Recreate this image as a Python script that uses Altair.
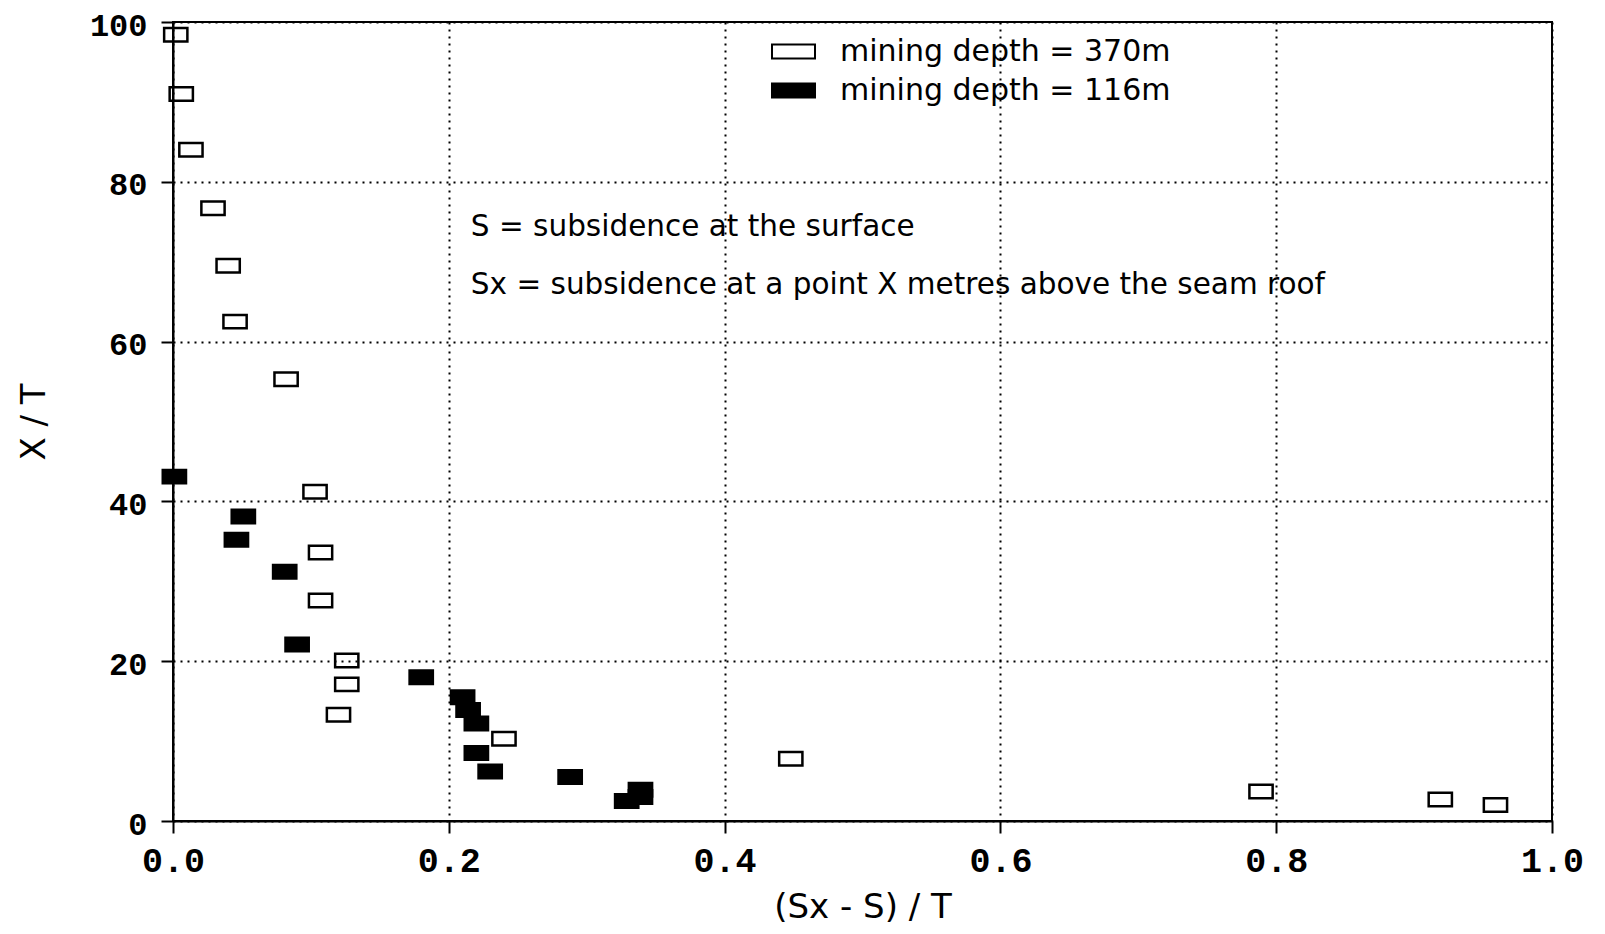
import altair as alt
import pandas as pd

# ---- data ----
open_x = [0.002, 0.006, 0.013, 0.029, 0.040, 0.045, 0.082, 0.103, 0.107, 0.107,
          0.126, 0.126, 0.120, 0.240, 0.448, 0.789, 0.919, 0.959]
open_y = [98.4, 91.0, 84.0, 76.7, 69.5, 62.5, 55.3, 41.2, 33.6, 27.6,
          20.1, 17.1, 13.3, 10.3, 7.8, 3.7, 2.7, 2.0]

filled_x = [0.001, 0.051, 0.046, 0.081, 0.090, 0.180, 0.210, 0.214, 0.220, 0.220,
            0.230, 0.288, 0.329, 0.339, 0.339]
filled_y = [43.1, 38.1, 35.2, 31.2, 22.1, 18.0, 15.5, 13.9, 12.2, 8.5,
            6.2, 5.5, 2.5, 3.9, 3.0]

series_names = ["mining depth = 370m", "mining depth = 116m"]

x_ticks = [0.0, 0.2, 0.4, 0.6, 0.8, 1.0]
y_ticks = [0, 20, 40, 60, 80, 100]

notes = ["S = subsidence at the surface",
         "Sx = subsidence at a point X metres above the seam roof"]
notes_x = [0.216, 0.216]
notes_y = [73.2, 65.9]

# ---- tables ----
pts = pd.DataFrame({
    "x": open_x + filled_x,
    "y": open_y + filled_y,
    "series": [series_names[0]] * len(open_x) + [series_names[1]] * len(filled_x),
})
ann = pd.DataFrame({"x": notes_x, "y": notes_y, "text": notes})

rect_path = "M-1,-0.58L1,-0.58L1,0.58L-1,0.58Z"
legend_path = "M-1,-0.33L1,-0.33L1,0.33L-1,0.33Z"

xscale = alt.Scale(domain=[0, 1], nice=False, zero=False)
yscale = alt.Scale(domain=[0, 100], nice=False, zero=False)

points = alt.Chart(pts).mark_point(
    shape=rect_path, filled=True, stroke="black", strokeWidth=2.5, opacity=1, size=540
).encode(
    x=alt.X("x:Q", scale=xscale,
            axis=alt.Axis(values=x_ticks, format=".1f", title="(Sx - S) / T")),
    y=alt.Y("y:Q", scale=yscale,
            axis=alt.Axis(values=y_ticks, format="d", title="X / T")),
    fill=alt.Fill("series:N",
                  scale=alt.Scale(domain=series_names, range=["transparent", "black"]),
                  legend=alt.Legend(
                      title=None, orient="none", legendX=598, legendY=7,
                      symbolType=legend_path, symbolSize=1849,
                      symbolStrokeColor="black", symbolStrokeWidth=2,
                      labelFont="DejaVu Sans", labelFontSize=30, labelColor="black",
                      labelOffset=24, rowPadding=1, padding=0,
                      labelLimit=600)),
)

text = alt.Chart(ann).mark_text(
    align="left", baseline="alphabetic", font="DejaVu Sans", fontSize=29.5, color="black"
).encode(
    x=alt.X("x:Q", scale=xscale),
    y=alt.Y("y:Q", scale=yscale),
    text="text:N",
)

chart = alt.layer(points, text).properties(
    width=1379, height=799,
    autosize=alt.AutoSizeParams(type="none"),
    padding={"left": 165, "top": 14, "right": 40, "bottom": 112},
    background="white",
).configure_view(
    stroke="black", strokeWidth=2
).configure_axis(
    grid=True, gridColor="black", gridDash=[2, 5], gridWidth=2, gridOpacity=1,
    domainColor="black", domainWidth=2,
    tickColor="black", tickSize=12, tickWidth=2,
    labelFont="Liberation Mono", labelFontWeight="bold", labelFontSize=35,
    labelColor="black", labelFlush=False,
    titleFont="DejaVu Sans", titleFontWeight="normal", titleFontSize=34,
    titleColor="black",
).configure_axisX(
    labelPadding=10, titlePadding=12
).configure_axisY(
    labelPadding=14, titlePadding=38, labelOffset=3, labelFontSize=32
)

chart.save("out.html", embed_options={"renderer": "svg", "actions": False})
